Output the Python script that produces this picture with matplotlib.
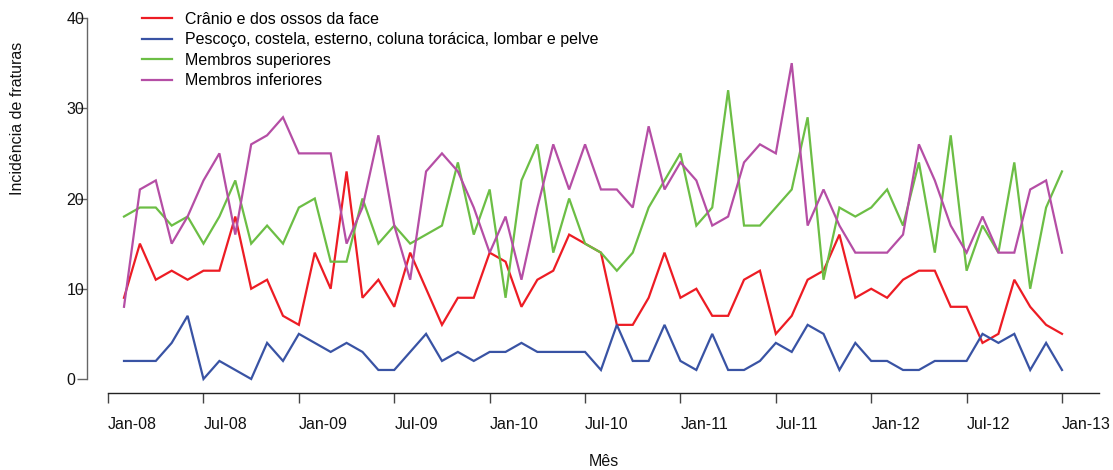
import numpy as np
import matplotlib
matplotlib.use("Agg")
import matplotlib.pyplot as plt

plt.rcParams['font.family'] = ['Liberation Sans', 'DejaVu Sans']

# Monthly fracture counts, Jan-2008 .. Dec-2012
cranio = [9, 15, 11, 12, 11, 12, 12, 18, 10, 11,
          7, 6, 14, 10, 23, 9, 11, 8, 14, 10,
          6, 9, 9, 14, 13, 8, 11, 12, 16, 15,
          14, 6, 6, 9, 14, 9, 10, 7, 7, 11,
          12, 5, 7, 11, 12, 16, 9, 10, 9, 11,
          12, 12, 8, 8, 4, 5, 11, 8, 6, 5]
tronco = [2, 2, 2, 4, 7, 0, 2, 1, 0, 4,
          2, 5, 4, 3, 4, 3, 1, 1, 3, 5,
          2, 3, 2, 3, 3, 4, 3, 3, 3, 3,
          1, 6, 2, 2, 6, 2, 1, 5, 1, 1,
          2, 4, 3, 6, 5, 1, 4, 2, 2, 1,
          1, 2, 2, 2, 5, 4, 5, 1, 4, 1]
superiores = [18, 19, 19, 17, 18, 15, 18, 22, 15, 17,
              15, 19, 20, 13, 13, 20, 15, 17, 15, 16,
              17, 24, 16, 21, 9, 22, 26, 14, 20, 15,
              14, 12, 14, 19, 22, 25, 17, 19, 32, 17,
              17, 19, 21, 29, 11, 19, 18, 19, 21, 17,
              24, 14, 27, 12, 17, 14, 24, 10, 19, 23]
inferiores = [8, 21, 22, 15, 18, 22, 25, 16, 26, 27,
              29, 25, 25, 25, 15, 19, 27, 17, 11, 23,
              25, 23, 19, 14, 18, 11, 19, 26, 21, 26,
              21, 21, 19, 28, 21, 24, 22, 17, 18, 24,
              26, 25, 35, 17, 21, 17, 14, 14, 14, 16,
              26, 22, 17, 14, 18, 14, 14, 21, 22, 14]

series_labels = ["Crânio e dos ossos da face",
                 "Pescoço, costela, esterno, coluna torácica, lombar e pelve",
                 "Membros superiores",
                 "Membros inferiores"]
series_colors = ["#ed1c24", "#3953a4", "#6cbe45", "#b54ea5"]

tick_labels = ["Jan-08", "Jul-08", "Jan-09", "Jul-09", "Jan-10", "Jul-10",
               "Jan-11", "Jul-11", "Jan-12", "Jul-12", "Jan-13"]

W, H = 1113, 470
fig = plt.figure(figsize=(W / 100, H / 100), dpi=100)

# axes box in pixels: y-axis at x=87, x-axis at y=393, top at y=18
left_px, right_px, top_px, bottom_px = 87, 1099, 18, 393
ax = fig.add_axes([left_px / W, 1 - bottom_px / H,
                   (right_px - left_px) / W, (bottom_px - top_px) / H])

x = np.arange(len(cranio))
px_per_month = (1062 - 124) / 59
px_per_unit = (379 - 18) / 40

lines = []
for vals, col in zip([cranio, tronco, superiores, inferiores], series_colors):
    ln, = ax.plot(x, vals, color=col, lw=1.6, solid_joinstyle='miter')
    lines.append(ln)

ax.set_xlim((left_px - 124) / px_per_month, (right_px - 124) / px_per_month)
ax.set_ylim(-(bottom_px - 379) / px_per_unit, 40)

for s in ["top", "right"]:
    ax.spines[s].set_visible(False)
ax.spines["left"].set_bounds(0, 40)
ax.spines["left"].set_color("#666666")
ax.spines["left"].set_linewidth(1.0)
ax.spines["bottom"].set_bounds(-1, ax.get_xlim()[1])
ax.spines["bottom"].set_color("#222222")
ax.spines["bottom"].set_linewidth(1.0)

ax.set_yticks([0, 10, 20, 30, 40])
ax.tick_params(axis='y', length=7.2, width=1.0, color="#666666",
               pad=7.4, labelsize=11.5, labelcolor="#111111")
for lab in ax.get_yticklabels():
    lab.set_horizontalalignment('left')

xt = np.arange(-1, len(cranio), 6)
ax.set_xticks(xt, tick_labels)
ax.tick_params(axis='x', length=7.2, width=1.0, color="#444444",
               pad=10, labelsize=11.5, labelcolor="#111111")
for lab in ax.get_xticklabels():
    lab.set_horizontalalignment('left')

fig.text(18 / W, 1 - 118 / H, "Incidência de fraturas", rotation=90,
         ha='center', va='center', fontsize=11.5, color="#111111")
fig.text(604 / W, 1 - 462 / H, "Mês", ha='center', va='center',
         fontsize=11.5, color="#111111")

fs = 11.5 * 100 / 72
ax.legend(lines, series_labels, loc='upper left',
          bbox_to_anchor=(142 / W, 1 - 12 / H), bbox_transform=fig.transFigure,
          frameon=False, fontsize=11.5, borderpad=0, borderaxespad=0,
          handlelength=30 / fs, handletextpad=13 / fs, labelspacing=0.34)

fig.savefig("out.png", dpi=100)
